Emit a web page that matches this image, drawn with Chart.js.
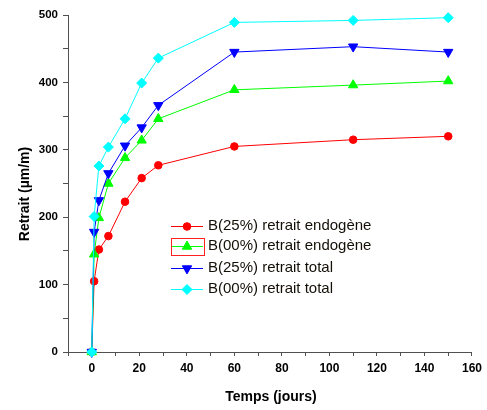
<!DOCTYPE html>
<html>
<head>
<meta charset="utf-8">
<script src="https://cdn.jsdelivr.net/npm/chart.js@4.4.1/dist/chart.umd.min.js"></script>
<style>
  html, body { margin: 0; padding: 0; background: #ffffff; }
  #wrap { position: relative; width: 487px; height: 410px; }
</style>
</head>
<body>
<div id="wrap"><canvas id="c" width="487" height="410"></canvas></div>
<script>
// Shrinkage measurements (µm/m) against age in days
const days        = [0, 1, 3, 7, 14, 21, 28, 60, 110, 150];
const b25Endogene = [0, 105, 152, 172, 223, 258, 277, 305, 315, 320];
const b00Endogene = [0, 145, 199, 250, 288, 314, 346, 389, 396, 402];
const b25Total    = [0, 178, 225, 265, 306, 333, 366, 445, 453, 445];
const b00Total    = [0, 201, 276, 304, 346, 399, 436, 489, 492, 496];

const seriesNames = [
  'B(25%) retrait endogène',
  'B(00%) retrait endogène',
  'B(25%) retrait total',
  'B(00%) retrait total'
];

const xTickLabels = [0, 20, 40, 60, 80, 100, 120, 140, 160];
const yTickLabels = [0, 100, 200, 300, 400, 500];

const FONT = '"Liberation Sans", Arial, Helvetica, sans-serif';
const AXIS_COLOR = '#505050';

function toPoints(ys) {
  return days.map((d, i) => ({ x: d, y: ys[i] }));
}

const styles = [
  { color: '#ff0000', pointStyle: 'circle',   rotation: 0,   radius: 3.8 },
  { color: '#00ff00', pointStyle: 'triangle', rotation: 0,   radius: 5.4 },
  { color: '#0000ff', pointStyle: 'triangle', rotation: 180, radius: 5.4 },
  { color: '#00ffff', pointStyle: 'rectRot',  rotation: 0,   radius: 5 }
];
const values = [b25Endogene, b00Endogene, b25Total, b00Total];

const datasets = values.map((v, i) => ({
  label: seriesNames[i],
  data: toPoints(v),
  borderColor: styles[i].color,
  backgroundColor: styles[i].color,
  borderWidth: 1,
  pointStyle: styles[i].pointStyle,
  pointRotation: styles[i].rotation,
  pointRadius: styles[i].radius,
  pointBorderWidth: 1,
  pointBackgroundColor: styles[i].color,
  pointBorderColor: styles[i].color,
  tension: 0,
  clip: false,
  order: 4 - i
}));

// Legend box and axis titles drawn on the canvas
const decorations = {
  id: 'decorations',
  afterDraw(chart) {
    const ctx = chart.ctx;
    ctx.save();
    const rows = [226, 246, 268, 289];
    const lineX0 = 171, lineX1 = 203, textX = 208;
    chart.data.datasets.forEach((ds, i) => {
      const y = rows[i];
      ctx.strokeStyle = ds.borderColor;
      ctx.lineWidth = 1;
      ctx.beginPath();
      ctx.moveTo(lineX0, y + 0.5);
      ctx.lineTo(lineX1, y + 0.5);
      ctx.stroke();
      ctx.fillStyle = ds.pointBackgroundColor;
      ctx.strokeStyle = ds.pointBorderColor;
      Chart.helpers.drawPoint(ctx, {
        pointStyle: ds.pointStyle,
        rotation: ds.pointRotation,
        radius: ds.pointRadius,
        borderWidth: 1
      }, (lineX0 + lineX1) / 2, y + 0.5);
      ctx.fillStyle = '#141008';
      ctx.font = '15px ' + FONT;
      ctx.textAlign = 'left';
      ctx.textBaseline = 'middle';
      ctx.fillText(ds.label, textX, y);
    });
    // highlight frame around the second legend key
    ctx.strokeStyle = '#ff2020';
    ctx.lineWidth = 1;
    ctx.strokeRect(171.5, 238.5, 33, 17);

    // axis titles
    ctx.fillStyle = '#000000';
    ctx.font = 'bold 14px ' + FONT;
    ctx.textAlign = 'center';
    ctx.textBaseline = 'middle';
    ctx.fillText('Temps (jours)', 271, 397);
    ctx.translate(25, 194);
    ctx.rotate(-Math.PI / 2);
    ctx.fillText('Retrait (µm/m)', 0, 0);
    ctx.restore();
  }
};

new Chart(document.getElementById('c'), {
  type: 'line',
  data: { datasets },
  options: {
    responsive: false,
    animation: false,
    devicePixelRatio: 1,
    layout: { padding: { top: 15, right: 14, left: 0, bottom: 0 } },
    plugins: {
      legend: { display: false },
      tooltip: { enabled: false }
    },
    scales: {
      x: {
        type: 'linear',
        min: -10,
        max: 160,
        afterFit(scale) { scale.height = 58; },
        ticks: {
          stepSize: 10,
          autoSkip: false,
          maxRotation: 0,
          padding: 5,
          color: '#000000',
          font: { family: FONT, size: 12, weight: 'bold' },
          callback: (v) => xTickLabels.includes(v) ? String(v) : ''
        },
        grid: {
          drawOnChartArea: false,
          drawTicks: true,
          tickLength: 4,
          color: AXIS_COLOR
        },
        border: { display: true, color: AXIS_COLOR, width: 1 }
      },
      y: {
        type: 'linear',
        min: 0,
        max: 500,
        afterFit(scale) { scale.width = 68; },
        ticks: {
          stepSize: 50,
          autoSkip: false,
          padding: 5,
          color: '#000000',
          font: { family: FONT, size: 11.5, weight: 'bold' },
          callback: (v) => yTickLabels.includes(v) ? String(v) : ''
        },
        grid: {
          drawOnChartArea: false,
          drawTicks: true,
          tickLength: 5,
          color: AXIS_COLOR
        },
        border: { display: true, color: AXIS_COLOR, width: 1 }
      }
    }
  },
  plugins: [decorations]
});
</script>
</body>
</html>
